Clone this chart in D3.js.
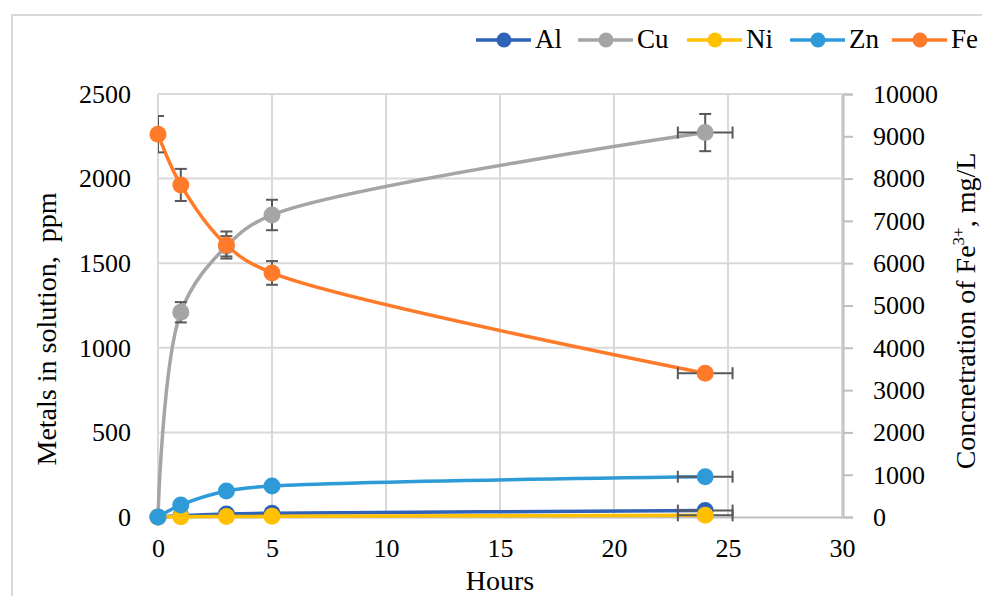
<!DOCTYPE html>
<html><head><meta charset="utf-8">
<script src="https://cdn.jsdelivr.net/npm/d3@7"></script>
<style>body{margin:0;background:#fff}svg{display:block}</style>
</head><body>
<svg id="c" width="982" height="596"></svg>
<script>
// ---- data ----
const hours = [0, 1, 3, 5, 24];
const al = [0, 8, 18, 22, 38];
const cu = [0, 1210, 1600, 1785, 2272];
const ni = [0, 2, 3, 4, 10];
const zn = [0, 71, 154, 183, 238];
const fe = [9050, 7850, 6430, 5770, 3400];
const alErr = [0, 0, 0, 0, 0];
const cuErr = [0, 60, 60, 90, 110];
const niErr = [0, 0, 0, 0, 0];
const znErr = [0, 0, 0, 12, 0];
const feErr = [430, 380, 320, 280, 90];
const hourErr = [0, 0, 0, 0, 1.2];
const xTicks = [0, 5, 10, 15, 20, 25, 30];
const yLeftTicks = [0, 500, 1000, 1500, 2000, 2500];
const yRightTicks = [0, 1000, 2000, 3000, 4000, 5000, 6000, 7000, 8000, 9000, 10000];
const seriesNames = ["Al", "Cu", "Ni", "Zn", "Fe"];

const colors = {Al: "#2f62b8", Cu: "#a5a5a5", Ni: "#ffc000", Zn: "#2e9bd8", Fe: "#ff7b2a"};
const series = [
  {name: "Al", vals: al, err: alErr, axis: "L"},
  {name: "Cu", vals: cu, err: cuErr, axis: "L"},
  {name: "Ni", vals: ni, err: niErr, axis: "L"},
  {name: "Zn", vals: zn, err: znErr, axis: "L"},
  {name: "Fe", vals: fe, err: feErr, axis: "R"}
];

const svg = d3.select("#c");
const font = "'Liberation Serif', 'Times New Roman', serif";
const L = 158, R = 842, T = 94, B = 517;
const x = d3.scaleLinear().domain([0, 30]).range([L, R]);
const yL = d3.scaleLinear().domain([0, 2500]).range([B, T]);
const yR = d3.scaleLinear().domain([0, 10000]).range([B, T]);
const fmt = d3.format("d");

// frame
svg.append("rect").attr("x", 12).attr("y", 15).attr("width", 1100).attr("height", 700)
  .attr("fill", "none").attr("stroke", "#d9d9d9").attr("stroke-width", 2);

// gridlines
const grid = svg.append("g").attr("stroke", "#d9d9d9").attr("stroke-width", 2);
grid.selectAll(".h").data(yLeftTicks.filter(d => d > 0)).join("line")
  .attr("x1", L).attr("x2", R).attr("y1", d => yL(d)).attr("y2", d => yL(d));
grid.selectAll(".v").data(xTicks).join("line")
  .attr("x1", d => x(d)).attr("x2", d => x(d)).attr("y1", T).attr("y2", B);

// x axis
const xAxis = svg.append("g").attr("transform", `translate(0,${B})`)
  .call(d3.axisBottom(x).tickValues(xTicks).tickFormat(fmt).tickSize(0).tickPadding(22));
xAxis.attr("font-family", font);
xAxis.select(".domain").attr("stroke", "#bfbfbf").attr("stroke-width", 2);
xAxis.selectAll("text").attr("font-family", font).attr("font-size", 26).attr("fill", "#000");

// left axis
const yAxisL = svg.append("g").attr("transform", `translate(${L},0)`)
  .call(d3.axisLeft(yL).tickValues(yLeftTicks).tickFormat(fmt).tickSize(0).tickPadding(27));
yAxisL.attr("font-family", font);
yAxisL.select(".domain").remove();
yAxisL.selectAll("text").attr("font-family", font).attr("font-size", 26).attr("fill", "#000");

// right axis
const yAxisR = svg.append("g").attr("transform", `translate(${R + 1},0)`)
  .call(d3.axisRight(yR).tickValues(yRightTicks).tickFormat(fmt).tickSize(10).tickPadding(20));
yAxisR.attr("font-family", font);
yAxisR.select(".domain").attr("stroke", "#bfbfbf").attr("stroke-width", 2);
yAxisR.selectAll(".tick line").attr("stroke", "#bfbfbf").attr("stroke-width", 2);
yAxisR.selectAll("text").attr("font-family", font).attr("font-size", 26).attr("fill", "#000");

// titles
svg.append("text").attr("x", 500).attr("y", 590).attr("text-anchor", "middle")
  .attr("font-family", font).attr("font-size", 28).text("Hours");
svg.append("text").attr("transform", "translate(56,329) rotate(-90)").attr("text-anchor", "middle")
  .attr("font-family", font).attr("font-size", 28).text("Metals in solution,\u00a0\u00a0ppm");
const rt = svg.append("text").attr("transform", "translate(975,311) rotate(-90)").attr("text-anchor", "middle")
  .attr("font-family", font).attr("font-size", 28);
rt.append("tspan").text("Concnetration of Fe");
rt.append("tspan").attr("font-size", 17).attr("dy", -11).text("3+");
rt.append("tspan").attr("dy", 11).text(", mg/L");

// clip
svg.append("defs").append("clipPath").attr("id", "clip").append("rect")
  .attr("x", L).attr("y", T - 30).attr("width", R - L + 40).attr("height", B - T + 40);

const plot = svg.append("g");
const line = d3.line().curve(d3.curveCatmullRom.alpha(0.5));
const errColor = "#595959";

series.forEach(s => {
  const y = s.axis === "L" ? yL : yR;
  const pts = hours.map((h, i) => [x(h), y(s.vals[i])]);
  const g = plot.append("g");
  g.append("path").attr("d", line(pts)).attr("fill", "none")
    .attr("stroke", colors[s.name]).attr("stroke-width", 3.5);
  // error bars
  const eg = g.append("g").attr("stroke", errColor).attr("stroke-width", 2).attr("clip-path", "url(#clip)");
  hours.forEach((h, i) => {
    const e = s.err[i];
    if (e > 0) {
      const cx = x(h), y1 = y(s.vals[i] + e), y2 = y(s.vals[i] - e);
      eg.append("line").attr("x1", cx).attr("x2", cx).attr("y1", y1).attr("y2", y2);
      eg.append("line").attr("x1", cx - 6).attr("x2", cx + 6).attr("y1", y1).attr("y2", y1);
      eg.append("line").attr("x1", cx - 6).attr("x2", cx + 6).attr("y1", y2).attr("y2", y2);
    }
    const he = hourErr[i];
    if (he > 0) {
      const cy = y(s.vals[i]), x1 = x(h - he), x2 = x(h + he);
      eg.append("line").attr("x1", x1).attr("x2", x2).attr("y1", cy).attr("y2", cy);
      eg.append("line").attr("x1", x1).attr("x2", x1).attr("y1", cy - 6).attr("y2", cy + 6);
      eg.append("line").attr("x1", x2).attr("x2", x2).attr("y1", cy - 6).attr("y2", cy + 6);
    }
  });
  g.selectAll("circle").data(pts).join("circle")
    .attr("cx", d => d[0]).attr("cy", d => d[1]).attr("r", 8.5)
    .attr("fill", colors[s.name]);
});

// legend
const legX = [476, 578, 687, 790, 892];
const leg = svg.append("g");
seriesNames.forEach((n, i) => {
  const x0 = legX[i];
  leg.append("line").attr("x1", x0).attr("x2", x0 + 55).attr("y1", 40).attr("y2", 40)
    .attr("stroke", colors[n]).attr("stroke-width", 3.5);
  leg.append("circle").attr("cx", x0 + 28).attr("cy", 40).attr("r", 7.5).attr("fill", colors[n]);
  leg.append("text").attr("x", x0 + 59).attr("y", 48).attr("font-family", font)
    .attr("font-size", 27).text(n);
});
</script>
</body></html>
